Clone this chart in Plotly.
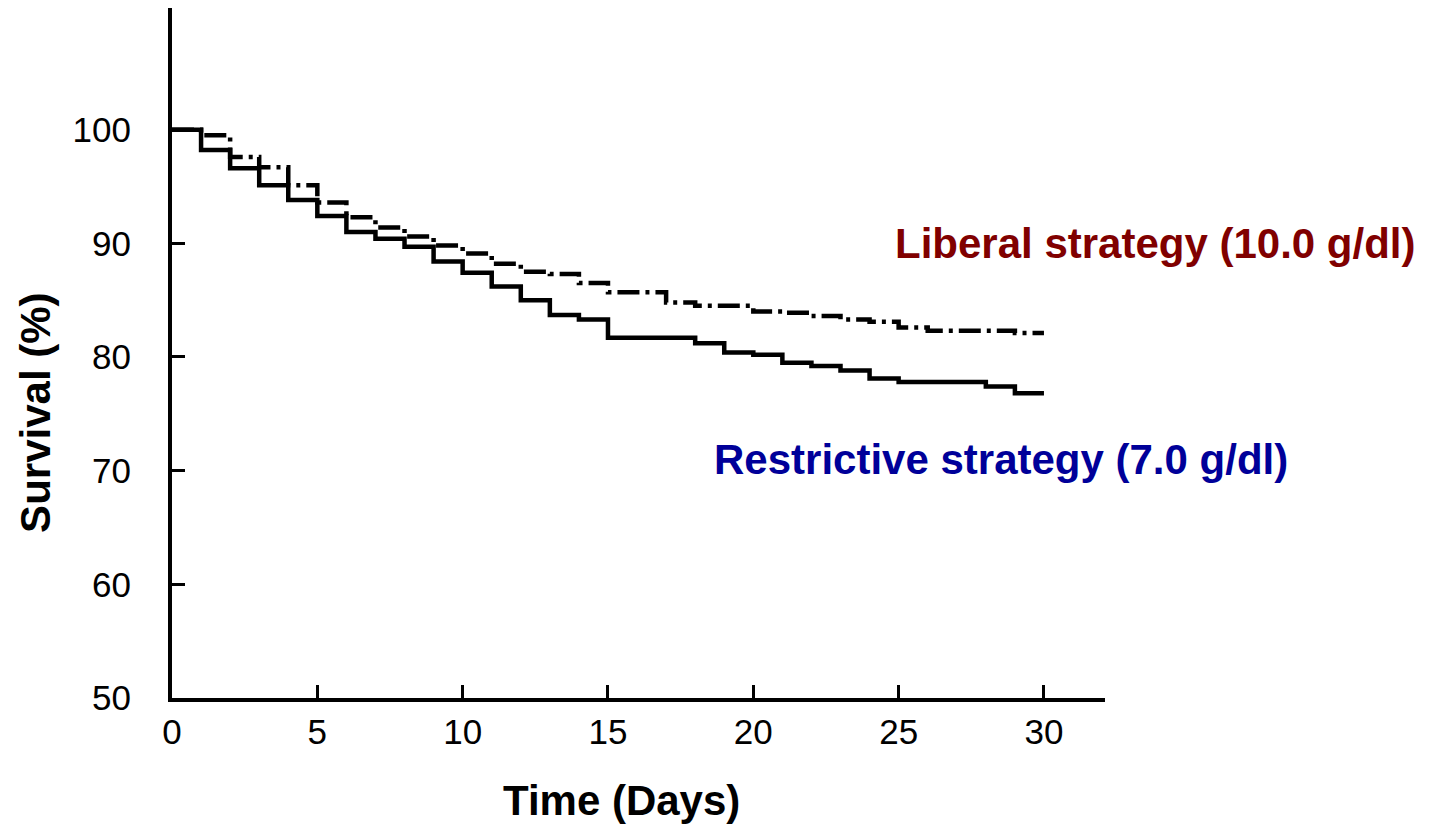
import plotly.graph_objects as go

# Kaplan-Meier style survival estimates (percent) by day
restrictive_days = [0, 1, 2, 3, 4, 5, 6, 7, 8, 9, 10, 11, 12, 13, 14, 15, 18, 19, 20,
                    21, 22, 23, 24, 25, 28, 29, 30]
restrictive_surv = [100, 98.2, 96.6, 95.1, 93.8, 92.4, 91.0, 90.4, 89.7, 88.4, 87.4, 86.2,
                    85.0, 83.7, 83.3, 81.7, 81.2, 80.4, 80.2, 79.5, 79.2, 78.8, 78.1, 77.8,
                    77.4, 76.8, 76.8]

liberal_days = [0, 1, 2, 3, 4, 5, 6, 7, 8, 9, 10, 11, 12, 13, 14, 15, 17, 18, 20,
                21, 22, 23, 24, 25, 26, 29, 30]
liberal_surv = [100, 99.5, 97.6, 96.7, 95.1, 93.6, 92.3, 91.4, 90.6, 89.8, 89.1, 88.2,
                87.5, 87.3, 86.5, 85.7, 84.8, 84.5, 84.0, 83.9, 83.6, 83.3, 83.1, 82.6,
                82.3, 82.1, 82.1]

x_ticks = [0, 5, 10, 15, 20, 25, 30]
y_ticks = [50, 60, 70, 80, 90, 100]

FONT = "Arial, Liberation Sans, sans-serif"

fig = go.Figure()
fig.add_trace(go.Scatter(
    x=liberal_days, y=liberal_surv, mode="lines", line_shape="hv",
    line=dict(color="black", width=4.5, dash="22px,6px,4px,6px"),
    name="Liberal strategy (10.0 g/dl)", showlegend=False,
))
fig.add_trace(go.Scatter(
    x=restrictive_days, y=restrictive_surv, mode="lines", line_shape="hv",
    line=dict(color="black", width=4.5),
    name="Restrictive strategy (7.0 g/dl)", showlegend=False,
))

fig.update_layout(
    width=1431, height=829,
    margin=dict(l=172, r=326, t=8, b=131),
    plot_bgcolor="white", paper_bgcolor="white",
    font=dict(family=FONT, color="black", size=35),
    xaxis=dict(
        range=[0, 32.1], tickvals=x_ticks, ticktext=[str(v) for v in x_ticks],
        showline=True, linecolor="black", linewidth=4, mirror=False,
        ticks="inside", ticklen=13, tickwidth=3, tickcolor="black",
        showgrid=False, zeroline=False, tickfont=dict(size=35),
        ticklabelstandoff=0,
    ),
    yaxis=dict(
        range=[50, 110.7], tickvals=y_ticks, ticktext=[str(v) for v in y_ticks],
        showline=True, linecolor="black", linewidth=4, mirror=False,
        ticks="inside", ticklen=13, tickwidth=3, tickcolor="black",
        showgrid=False, zeroline=False, tickfont=dict(size=35),
        ticklabelstandoff=30,
    ),
    annotations=[
        dict(text="<b>Liberal strategy (10.0 g/dl)</b>", xref="paper", yref="paper",
             x=1.3355, y=0.658, xanchor="right", yanchor="middle", showarrow=False,
             font=dict(size=42, color="#800000", family=FONT)),
        dict(text="<b>Restrictive strategy (7.0 g/dl)</b>", xref="paper", yref="paper",
             x=0.5788, y=0.345, xanchor="left", yanchor="middle", showarrow=False,
             font=dict(size=42, color="#000099", family=FONT)),
        dict(text="<b>Time (Days)</b>", xref="paper", yref="paper",
             x=0.482, y=-0.148, xanchor="center", yanchor="middle", showarrow=False,
             font=dict(size=42, color="black", family=FONT)),
        dict(text="<b>Survival (%)</b>", xref="paper", yref="paper",
             x=-0.147, y=0.413, xanchor="center", yanchor="middle", showarrow=False,
             textangle=-90, font=dict(size=42, color="black", family=FONT)),
    ],
)

fig.write_html("out.html")
